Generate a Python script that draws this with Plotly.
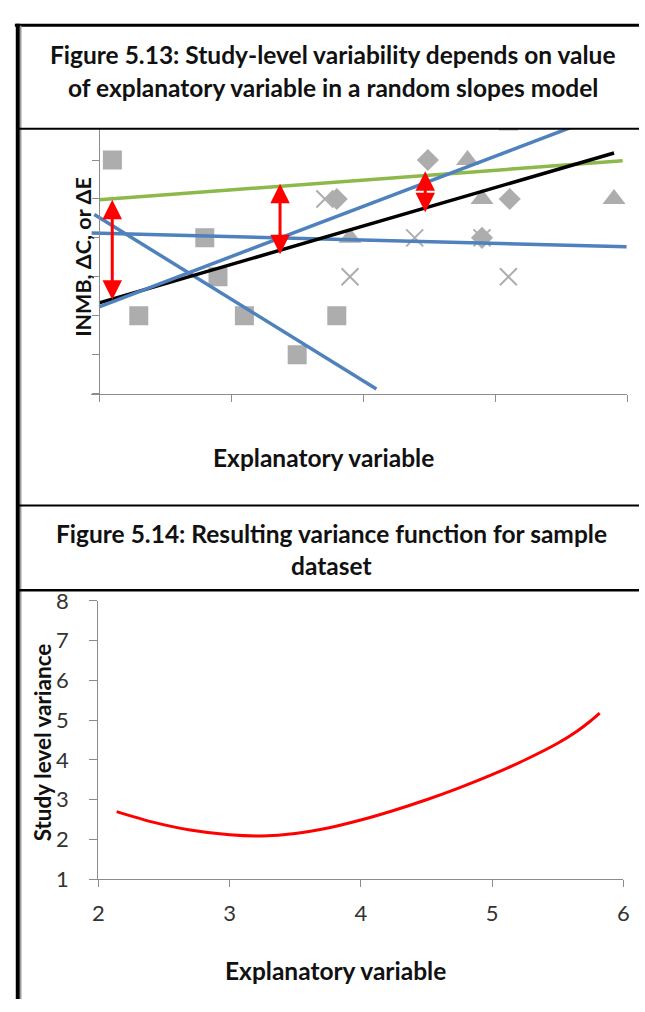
import plotly.graph_objects as go

W, H = 645, 1012

# ---------------- Data: Figure 5.13 ----------------
sq_x = [0.10, 0.30, 0.80, 0.90, 1.10, 1.50, 1.80, 3.10]
sq_y = [6, 2, 4, 3, 2, 1, 2, 7]
cross_x = [1.71, 2.39, 2.90, 1.90, 3.10]
cross_y = [5, 4, 4, 3, 3]
dia_x = [1.80, 2.49, 3.11, 2.90]
dia_y = [5, 6, 5, 4]
tri_x = [2.79, 2.90, 3.90, 1.90]
tri_y = [6, 5, 5, 4]

green_x = [0.0, 3.965]
green_y = [4.98, 5.98]
black_x = [0.0, 3.90]
black_y = [2.33, 6.18]
blue_up_x = [0.0, 3.70]
blue_up_y = [2.23, 7.00]
blue_flat_x = [-0.057, 3.995]
blue_flat_y = [4.125, 3.77]
blue_down_x = [-0.037, 2.10]
blue_down_y = [4.60, 0.12]

arrow_x = [0.099, 1.37, 2.47]
arrow_top = [4.98, 5.39, 5.71]
arrow_bot = [2.375, 3.54, 4.62]

top_xticks = [0, 1, 2, 3, 4]
top_yticks = [0, 1, 2, 3, 4, 5, 6]

# ---------------- Data: Figure 5.14 ----------------
var_x = [2.14, 2.40, 2.70, 3.00, 3.25, 3.50, 3.75, 4.00, 4.25, 4.50, 4.75,
         5.00, 5.25, 5.50, 5.65, 5.75, 5.82]
var_y = [2.70, 2.45, 2.24, 2.12, 2.09, 2.15, 2.29, 2.49, 2.73, 3.00, 3.30,
         3.63, 4.00, 4.42, 4.73, 4.98, 5.18]
bot_xticks = [2, 3, 4, 5, 6]
bot_yticks = [1, 2, 3, 4, 5, 6, 7, 8]


def px_x(p):
    return p / W


def px_y(p):
    return 1 - p / H


FONT = "Lato"
GRAY_MK = "#ADADAD"
AXIS_C = "#8C8C8C"

fig = go.Figure()

# markers
fig.add_trace(go.Scatter(x=sq_x, y=sq_y, mode="markers", xaxis="x", yaxis="y",
                         marker=dict(symbol="square", size=19, color=GRAY_MK)))
fig.add_trace(go.Scatter(x=cross_x, y=cross_y, mode="markers", xaxis="x", yaxis="y",
                         marker=dict(symbol="x-thin", size=17, color=GRAY_MK,
                                     line=dict(width=2, color=GRAY_MK))))
fig.add_trace(go.Scatter(x=dia_x, y=dia_y, mode="markers", xaxis="x", yaxis="y",
                         marker=dict(symbol="diamond", size=17, color=GRAY_MK)))
fig.add_trace(go.Scatter(x=tri_x, y=tri_y, mode="markers", xaxis="x", yaxis="y",
                         marker=dict(symbol="triangle-up", size=20, color=GRAY_MK)))

# lines
for lx, ly, col, w in [
    (green_x, green_y, "#8DB84A", 3.5),
    (blue_flat_x, blue_flat_y, "#4F81BD", 3.5),
    (blue_down_x, blue_down_y, "#4F81BD", 3.5),
    (black_x, black_y, "#000000", 3.5),
    (blue_up_x, blue_up_y, "#4F81BD", 3.5),
]:
    fig.add_trace(go.Scatter(x=lx, y=ly, mode="lines", xaxis="x", yaxis="y",
                             line=dict(color=col, width=w)))

# variance function
fig.add_trace(go.Scatter(x=var_x, y=var_y, mode="lines", xaxis="x2", yaxis="y2",
                         line=dict(color="#FF0000", width=3, shape="spline", smoothing=0.6)))

annotations = []
# red double arrows
for ax_, t, b in zip(arrow_x, arrow_top, arrow_bot):
    annotations.append(dict(x=ax_, y=t, ax=ax_, ay=b, xref="x", yref="y",
                            axref="x", ayref="y", text="", showarrow=True,
                            arrowside="end+start", arrowhead=2, arrowsize=1.3,
                            arrowwidth=3, arrowcolor="#FF0000",
                            standoff=0, startstandoff=0))


def ptext(txt, x, y, size, angle=0, color="#111111"):
    annotations.append(dict(text=txt, x=px_x(x), y=px_y(y), xref="paper", yref="paper",
                            showarrow=False, textangle=angle, xanchor="center",
                            yanchor="middle",
                            font=dict(family=FONT, size=size, color=color)))


ptext("<b>Figure 5.13: Study-level variability depends on value</b>", 333, 42, 24.5)
ptext("<b>of explanatory variable in a random slopes model</b>", 333, 76, 24.5)
ptext("<b>Explanatory variable</b>", 324, 456, 24.5)
ptext("<b>INMB, ΔC, or ΔE</b>", 79, 250, 21.5, angle=-90)
ptext("<b>Figure 5.14: Resulting variance function for sample</b>", 332, 534, 24.5)
ptext("<b>dataset</b>", 332, 567, 24.5)
ptext("<b>Explanatory variable</b>", 336, 983, 24.5)
ptext("<b>Study level variance</b>", 37, 748, 22.5, angle=-90)

shapes = []


def pline(x0, y0, x1, y1, w, col="#000000"):
    shapes.append(dict(type="line", xref="paper", yref="paper",
                       x0=px_x(x0), y0=px_y(y0), x1=px_x(x1), y1=px_y(y1),
                       line=dict(color=col, width=w)))


pline(9, 11.5, 645, 11.5, 3)
pline(12, 10, 12, 1012, 4)
pline(15, 12, 15, 1012, 1.5, "#9A9A9A")
pline(12, 118, 645, 118, 2)
pline(12, 505, 645, 505, 2)
pline(12, 592, 645, 592, 2.5)

axis_common = dict(showgrid=False, zeroline=False, showline=True, linecolor=AXIS_C,
                   linewidth=1.3, ticks="outside", tickcolor=AXIS_C, tickwidth=1.3)

fig.update_layout(
    width=W, height=H,
    margin=dict(l=0, r=0, t=0, b=0),
    paper_bgcolor="white", plot_bgcolor="rgba(0,0,0,0)",
    showlegend=False,
    xaxis=dict(domain=[px_x(86.2), px_x(633)], range=[-0.065, 4.0], anchor="y",
               tickvals=top_xticks, showticklabels=False, ticklen=7, **axis_common),
    yaxis=dict(domain=[px_y(390), px_y(118)], range=[0, 6.8], anchor="free",
               position=px_x(95), tickvals=top_yticks, showticklabels=False,
               ticklen=7, **axis_common),
    xaxis2=dict(domain=[px_x(94), px_x(629)], range=[2, 6], anchor="y2",
                tickvals=bot_xticks, ticklen=7, ticklabelstandoff=7,
                tickfont=dict(family=FONT, size=22, color="#333333"), **axis_common),
    yaxis2=dict(domain=[px_y(889), px_y(603)], range=[1, 8], anchor="x2",
                tickvals=bot_yticks, ticklen=8, ticklabelstandoff=16,
                tickfont=dict(family=FONT, size=22, color="#333333"), **axis_common),
    annotations=annotations,
    shapes=shapes,
)

fig.write_html("out.html",
               post_script="document.body.style.margin='0px';document.body.style.padding='0px';")
